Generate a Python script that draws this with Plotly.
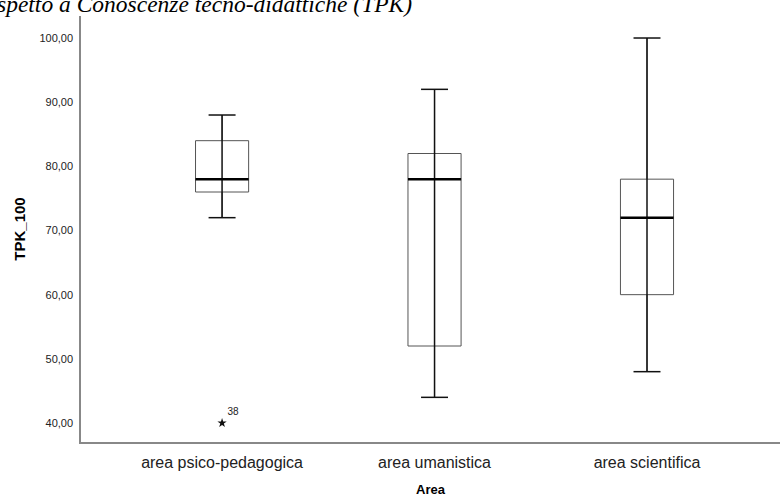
import plotly.graph_objects as go

categories = ["area psico-pedagogica", "area umanistica", "area scientifica"]
lower_whisker = [72, 44, 48]
q1 = [76, 52, 60]
median = [78, 78, 72]
q3 = [84, 82, 78]
upper_whisker = [88, 92, 100]
outlier_cat = [0]
outlier_val = [40]
outlier_label = ["38"]
y_ticks = [40, 50, 60, 70, 80, 90, 100]
y_tick_text = ["40,00", "50,00", "60,00", "70,00", "80,00", "90,00", "100,00"]

box_w = 0.25
cap_w = 0.127
pos = list(range(len(categories)))

fig = go.Figure()

fig.add_trace(go.Box(
    x=pos, q1=q1, median=median, q3=q3,
    lowerfence=lower_whisker, upperfence=upper_whisker,
    width=box_w, fillcolor="rgba(0,0,0,0)",
    line=dict(color="#555555", width=1), whiskerwidth=0,
    boxpoints=False, hoverinfo="skip", showlegend=False,
))

wx, wy, cx, cy, mx, my = [], [], [], [], [], []
for i in pos:
    wx += [i, i, None]
    wy += [lower_whisker[i], upper_whisker[i], None]
    for v in (lower_whisker[i], upper_whisker[i]):
        cx += [i - cap_w / 2, i + cap_w / 2, None]
        cy += [v, v, None]
    mx += [i - box_w / 2, i + box_w / 2, None]
    my += [median[i], median[i], None]

fig.add_trace(go.Scatter(x=wx, y=wy, mode="lines", line=dict(color="#111111", width=1.5),
                         hoverinfo="skip", showlegend=False))
fig.add_trace(go.Scatter(x=cx, y=cy, mode="lines", line=dict(color="#111111", width=1.5),
                         hoverinfo="skip", showlegend=False))
fig.add_trace(go.Scatter(x=mx, y=my, mode="lines", line=dict(color="#000000", width=2.5),
                         hoverinfo="skip", showlegend=False))
fig.add_trace(go.Scatter(x=outlier_cat, y=outlier_val, mode="markers+text",
                         marker=dict(symbol="star", size=7, color="#111111"),
                         text=outlier_label, textposition="top right",
                         textfont=dict(family="Liberation Sans, Arial", size=10, color="#222222"),
                         hoverinfo="skip", showlegend=False))

fig.add_annotation(
    text="<i>spetto a Conoscenze tecno-didattiche (TPK)</i>",
    x=0, y=1, xref="paper", yref="paper", xanchor="left", yanchor="bottom",
    xshift=-86, yshift=-3, showarrow=False,
    font=dict(family="Liberation Serif, Times New Roman", size=23.5, color="#000000"),
)

fig.update_layout(
    width=780, height=498,
    margin=dict(l=81, r=0, t=16, b=56),
    paper_bgcolor="white", plot_bgcolor="white",
    font=dict(family="Liberation Sans, Arial", color="#222222"),
    xaxis=dict(
        range=[-0.664, 2.626], tickvals=pos, ticktext=categories,
        showgrid=False, zeroline=False, showline=True, linecolor="#888888", linewidth=1.5,
        ticks="", tickfont=dict(size=16, color="#222222"), ticklabelstandoff=5,
        title=dict(text="<b>Area</b>", font=dict(size=13, color="#000000"), standoff=15),
    ),
    yaxis=dict(
        range=[37.04, 103.43], tickvals=y_ticks, ticktext=y_tick_text,
        showgrid=False, zeroline=False, showline=True, linecolor="#888888", linewidth=1.5,
        ticks="", tickfont=dict(size=11, color="#222222"), ticklabelstandoff=4,
        title=dict(text="<b>TPK_100</b>", font=dict(size=15, color="#000000"), standoff=10),
    ),
)

fig.write_html("out.html", config={"displayModeBar": False},
               post_script="document.body.style.margin='0';")
